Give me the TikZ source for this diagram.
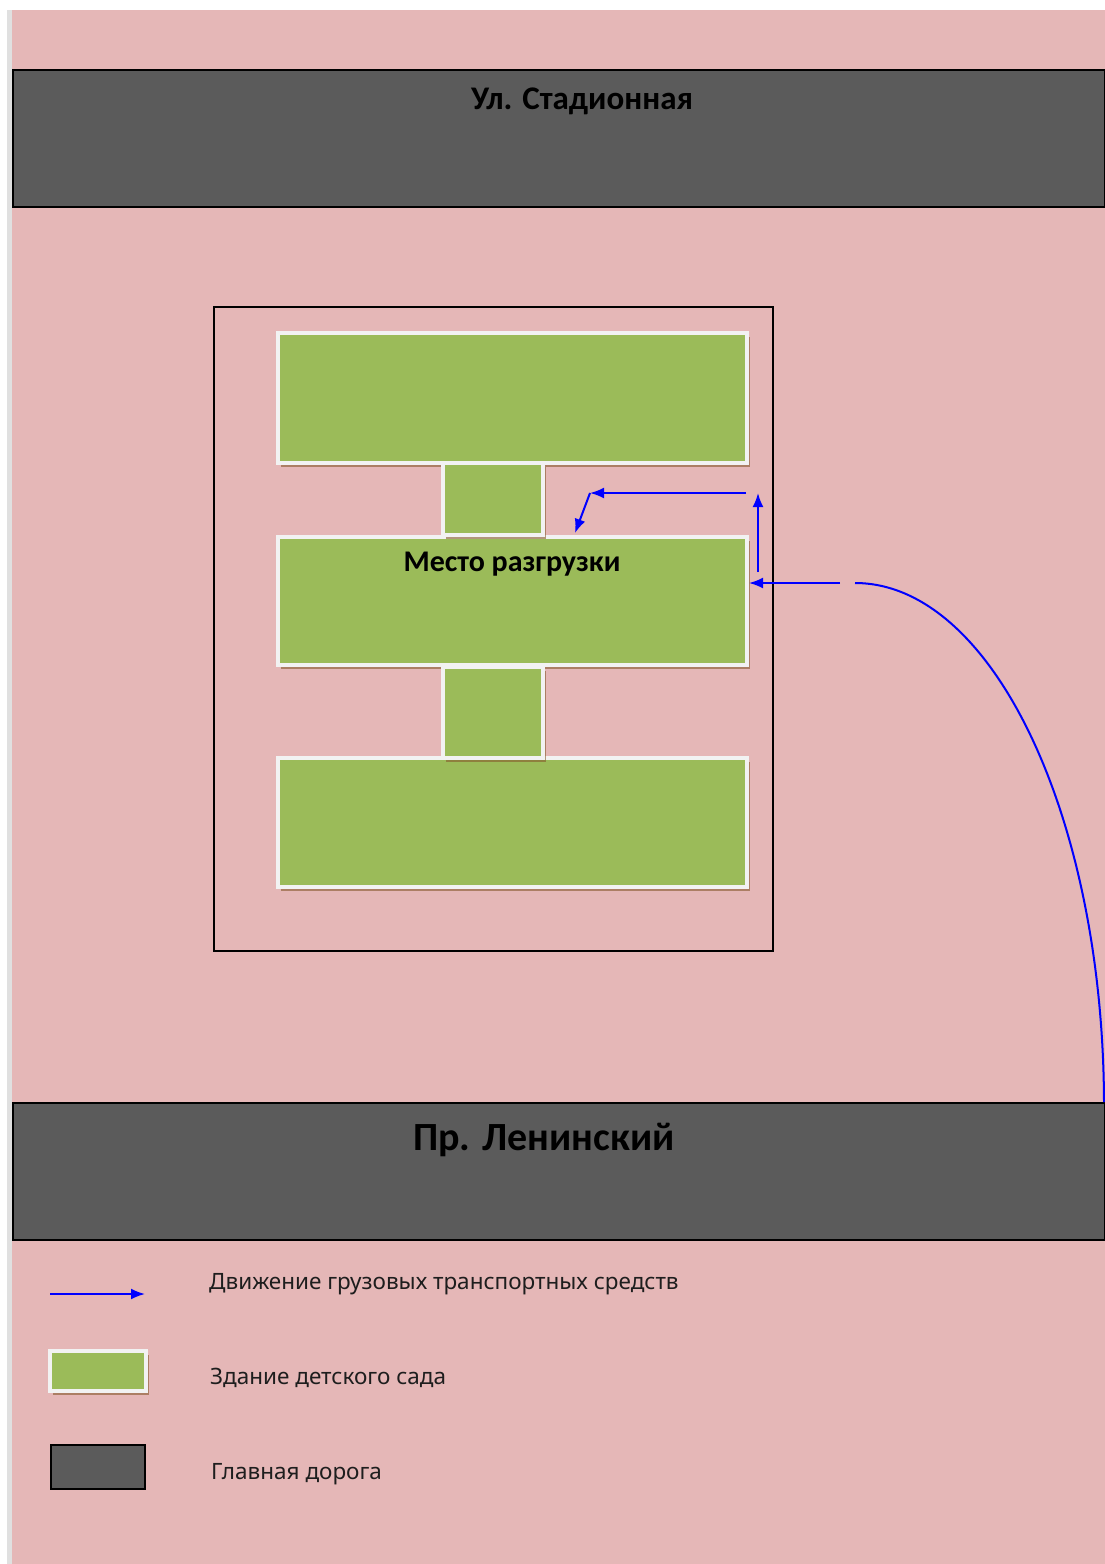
\documentclass[tikz,border=0pt]{standalone}
\usepackage{fontspec}
\setmainfont{Carlito}
\newfontfamily\legendfamily{Noto Sans}
\usetikzlibrary{arrows.meta,shadows}
\definecolor{sitepink}{RGB}{229,183,183}
\definecolor{roadgray}{RGB}{91,91,91}
\definecolor{housegreen}{RGB}{155,187,89}
\definecolor{houseframe}{RGB}{242,242,242}
\definecolor{legendtext}{RGB}{30,30,30}
\newcommand{\roadfont}{\bfseries\fontsize{33}{38}\selectfont}
\newcommand{\bigroadfont}{\bfseries\fontsize{40}{46}\selectfont}
\newcommand{\unloadfont}{\bfseries\fontsize{30}{34}\selectfont}
\newcommand{\legendfont}{\legendfamily\fontsize{22.5}{26}\selectfont}
\tikzset{
  house/.style={draw=houseframe,line width=4pt,fill=housegreen,inner sep=0pt,
    drop shadow={shadow xshift=3pt,shadow yshift=-4pt,fill=brown!70!black,opacity=0.6}},
  road/.style={draw=black,line width=2pt,fill=roadgray,inner sep=0pt,
    minimum width=1092pt,minimum height=137pt},
  route/.style={blue,line width=2pt,-{Latex[length=14pt,width=11pt]}},
  legendtxt/.style={anchor=west,font=\legendfont,text=legendtext,inner sep=0pt}
}
\begin{document}
\begin{tikzpicture}[x=1pt,y=-1pt]
  \useasboundingbox (0,0) rectangle (1105,1564);
  % background
  \fill[white] (0,0) rectangle (1105,1564);
  \fill[black!12] (7,10) rectangle (12,1564);
  \fill[sitepink] (12,10) rectangle (1105,1564);

  % roads
  \node[road] (stadium) at (559,138.5) {};
  \node[font=\roadfont] (stadiumname) at (582,101) {Ул. Стадионная};
  \node[road] (lenin) at (559,1171.5) {};
  \node[font=\bigroadfont] (leninname) at (544,1140) {Пр. Ленинский};

  % site
  \draw[line width=1.5pt] (214,307) rectangle (773,951);

  % buildings
  \node[house,minimum width=469pt,minimum height=130pt] (north) at (512.5,398) {};
  \node[house,minimum width=469pt,minimum height=128pt] (middle) at (512.5,601) {};
  \node[house,minimum width=469pt,minimum height=129pt] (south) at (512.5,822.5) {};
  \node[house,minimum width=100pt,minimum height=72pt] (link1) at (493,499) {};
  \node[house,minimum width=100pt,minimum height=91pt] (link2) at (493,712.5) {};
  \node[font=\unloadfont] (unload) at (512,564) {Место разгрузки};

  % truck route
  \coordinate (bend) at (855,583);
  \coordinate (entry) at (840,583);
  \coordinate (turn) at (758,572);
  \coordinate (corner) at (758,493);
  \coordinate (back) at (746,493);
  \coordinate (kink) at (590,493);
  \coordinate (dock) at (575,533);
  \draw[blue,line width=2pt] (lenin.north east) ++(-2,0) .. controls (1103,816) and (992,583) .. (bend);
  \draw[route] (entry) -- (middle.east |- entry);
  \draw[route] (turn) -- (corner);
  \draw[route] (back) -- (kink);
  \draw[route] (kink) -- (dock);

  % legend
  \coordinate (lgstart) at (50,1294);
  \coordinate (lgend) at (145,1294);
  \draw[route] (lgstart) -- (lgend);
  \node[house,minimum width=96pt,minimum height=40pt] (lghouse) at (98,1371) {};
  \node[draw=black,line width=2pt,fill=roadgray,minimum width=94pt,minimum height=44pt,inner sep=0pt] (lgroad) at (98,1467) {};
  \node[legendtxt] (lgtxt1) at (209,1284) {Движение грузовых транспортных средств};
  \node[legendtxt] (lgtxt2) at (210,1378) {Здание детского сада};
  \node[legendtxt] (lgtxt3) at (211,1474) {Главная дорога};
\end{tikzpicture}
\end{document}
